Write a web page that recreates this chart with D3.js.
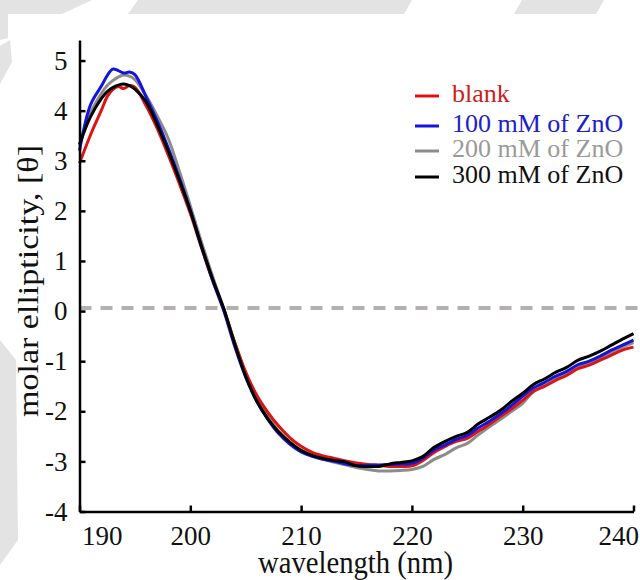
<!DOCTYPE html>
<html>
<head>
<meta charset="utf-8">
<script src="https://cdn.jsdelivr.net/npm/d3@7"></script>
<style>
  html, body { margin: 0; padding: 0; background: #fff; }
</style>
</head>
<body>
<svg id="chart" width="640" height="580"></svg>
<script>
// DATA
const wavelength = [190, 191, 192, 192.5, 193, 193.5, 194, 194.5, 195, 196, 197, 198, 199, 200,
  201, 202, 203, 204, 205, 206, 207, 208, 209, 210, 211, 212, 213, 214, 215, 216, 217, 218, 219, 220,
  221, 222, 223, 224, 225, 226, 227, 228, 229, 230, 231, 232, 233, 234, 235, 236, 237, 238, 239, 240];

const blankValues = [2.95, 3.52, 4.02, 4.28, 4.42, 4.48, 4.44, 4.5, 4.47, 4.1, 3.65, 3.12, 2.55, 1.95,
  1.27, 0.62, 0.05, -0.62, -1.22, -1.68, -2.02, -2.3, -2.53, -2.7, -2.82, -2.89, -2.94, -2.99, -3.03, -3.06, -3.08, -3.1, -3.1, -3.09,
  -2.98, -2.82, -2.7, -2.6, -2.54, -2.4, -2.26, -2.1, -1.95, -1.78, -1.6, -1.5, -1.38, -1.28, -1.15, -1.08, -0.98, -0.88, -0.78, -0.72];

const zno100Values = [3.2, 4.12, 4.5, 4.7, 4.83, 4.8, 4.75, 4.77, 4.72, 4.28, 3.8, 3.26, 2.66, 2.02,
  1.3, 0.62, 0.02, -0.7, -1.32, -1.8, -2.16, -2.45, -2.66, -2.81, -2.9, -2.96, -3.0, -3.05, -3.08, -3.08, -3.07, -3.06, -3.05, -3.04,
  -2.93, -2.77, -2.67, -2.56, -2.48, -2.33, -2.2, -2.05, -1.88, -1.7, -1.53, -1.42, -1.3, -1.2, -1.07, -1.0, -0.9, -0.78, -0.68, -0.58];

const zno200Values = [3.3, 3.95, 4.35, 4.5, 4.6, 4.67, 4.71, 4.69, 4.62, 4.3, 3.9, 3.45, 2.8, 2.1,
  1.38, 0.7, 0.06, -0.62, -1.24, -1.74, -2.1, -2.4, -2.62, -2.78, -2.89, -2.96, -3.02, -3.07, -3.12, -3.16, -3.19, -3.19, -3.18, -3.16,
  -3.1, -2.96, -2.86, -2.73, -2.64, -2.47, -2.31, -2.16, -2.0, -1.84, -1.6, -1.48, -1.36, -1.25, -1.13, -1.04, -0.94, -0.82, -0.72, -0.63];

const zno300Values = [3.33, 3.88, 4.25, 4.38, 4.46, 4.51, 4.53, 4.5, 4.43, 4.18, 3.72, 3.2, 2.62, 2.0,
  1.3, 0.65, 0.06, -0.65, -1.3, -1.8, -2.15, -2.42, -2.62, -2.78, -2.88, -2.94, -2.98, -3.01, -3.09, -3.1, -3.1, -3.05, -3.02, -2.99,
  -2.9, -2.72, -2.6, -2.5, -2.42, -2.25, -2.12, -1.98, -1.8, -1.64, -1.46, -1.35, -1.22, -1.12, -0.98, -0.9, -0.8, -0.68, -0.56, -0.45];

const seriesNames = ['blank', '100 mM of ZnO', '200 mM of ZnO', '300 mM of ZnO'];
const xTicks = [190, 200, 210, 220, 230, 240];
const yTicks = [-4, -3, -2, -1, 0, 1, 2, 3, 4, 5];
const baselineValue = 0.06;

// STYLES
const FONT = '"Liberation Serif", "Times New Roman", Tinos, "DejaVu Serif", serif';
const lineColors = ['#dd1414', '#1414dd', '#8c8c8c', '#000000'];
const textColors = ['#cc2020', '#2020c8', '#9a9a9a', '#111111'];

let svg = d3.select('#chart');

// faint watermark shapes behind the plot
const shade = '#e3e3e3';
[
  [[0, 0], [92, 0], [62, 14], [8, 14], [8, 38], [0, 40]],
  [[138, 0], [412, 0], [404, 14], [128, 14]],
  [[522, 0], [604, 0], [596, 14], [514, 14]],
  [[0, 46], [10, 40], [12, 62], [0, 84]],
  [[0, 340], [16, 360], [18, 540], [0, 565]]
].forEach(pts => {
  svg.append('path').attr('d', d3.line()(pts) + 'Z').attr('fill', shade);
});

let x = d3.scaleLinear().domain([190, 240]).range([79.5, 633.5]);
let y = d3.scaleLinear().domain([-4, 5.41]).range([511.5, 40]);

// dashed zero line
svg.append('line')
  .attr('x1', x(190)).attr('x2', 640)
  .attr('y1', y(baselineValue)).attr('y2', y(baselineValue))
  .attr('stroke', '#b5b0b0').attr('stroke-width', 4)
  .attr('stroke-dasharray', '12,9');

// curves, grey first so the others sit on top like in the source
let allSeries = [blankValues, zno100Values, zno200Values, zno300Values];
let drawOrder = [2, 0, 1, 3];
let line = d3.line()
  .x((d, i) => x(wavelength[i]))
  .y(d => y(d))
  .curve(d3.curveCatmullRom.alpha(0.5));

drawOrder.forEach(k => {
  svg.append('path')
    .datum(allSeries[k])
    .attr('d', line)
    .attr('fill', 'none')
    .attr('stroke', lineColors[k])
    .attr('stroke-width', 3)
    .attr('stroke-linejoin', 'round');
});

// axes
let xAxis = svg.append('g')
  .attr('transform', `translate(0,${y(-4)})`)
  .call(d3.axisBottom(x).tickValues(xTicks).tickFormat(d3.format('d'))
    .tickSizeInner(-6).tickSizeOuter(0).tickPadding(14));

let yAxis = svg.append('g')
  .attr('transform', `translate(${x(190)},0)`)
  .call(d3.axisLeft(y).tickValues(yTicks).tickFormat(d => String(d))
    .tickSizeInner(-6).tickSizeOuter(0).tickPadding(12));

[xAxis, yAxis].forEach(g => {
  g.attr('font-family', FONT).attr('font-size', 27);
  g.select('.domain').attr('stroke', '#000').attr('stroke-width', 2.5);
  g.selectAll('.tick line').attr('stroke', '#000').attr('stroke-width', 2.5);
  g.selectAll('.tick text').attr('fill', '#111');
});

// the first and last x labels are pulled inwards
xAxis.selectAll('.tick text')
  .filter(d => d === 190).attr('text-anchor', 'start').attr('x', 2);
xAxis.selectAll('.tick text')
  .filter(d => d === 240).attr('text-anchor', 'end').attr('x', 5);

// axis titles
svg.append('text')
  .attr('x', 258).attr('y', 573)
  .attr('textLength', 195).attr('lengthAdjust', 'spacingAndGlyphs')
  .attr('font-family', FONT).attr('font-size', 31)
  .attr('fill', '#111')
  .text('wavelength (nm)');

svg.append('text')
  .attr('transform', 'translate(38,417) rotate(-90)')
  .attr('textLength', 272).attr('lengthAdjust', 'spacingAndGlyphs')
  .attr('font-family', FONT).attr('font-size', 30)
  .attr('fill', '#111')
  .text('molar ellipticity, [\u03b8]');

// legend
const legendRows = [102, 132, 157, 183];
seriesNames.forEach((name, i) => {
  svg.append('line')
    .attr('x1', 415).attr('x2', 439)
    .attr('y1', legendRows[i] - 6).attr('y2', legendRows[i] - 6)
    .attr('stroke', lineColors[i]).attr('stroke-width', 3);
  svg.append('text')
    .attr('x', 452).attr('y', legendRows[i])
    .attr('font-family', FONT).attr('font-size', 26)
    .attr('fill', textColors[i])
    .text(name);
});
</script>
</body>
</html>
